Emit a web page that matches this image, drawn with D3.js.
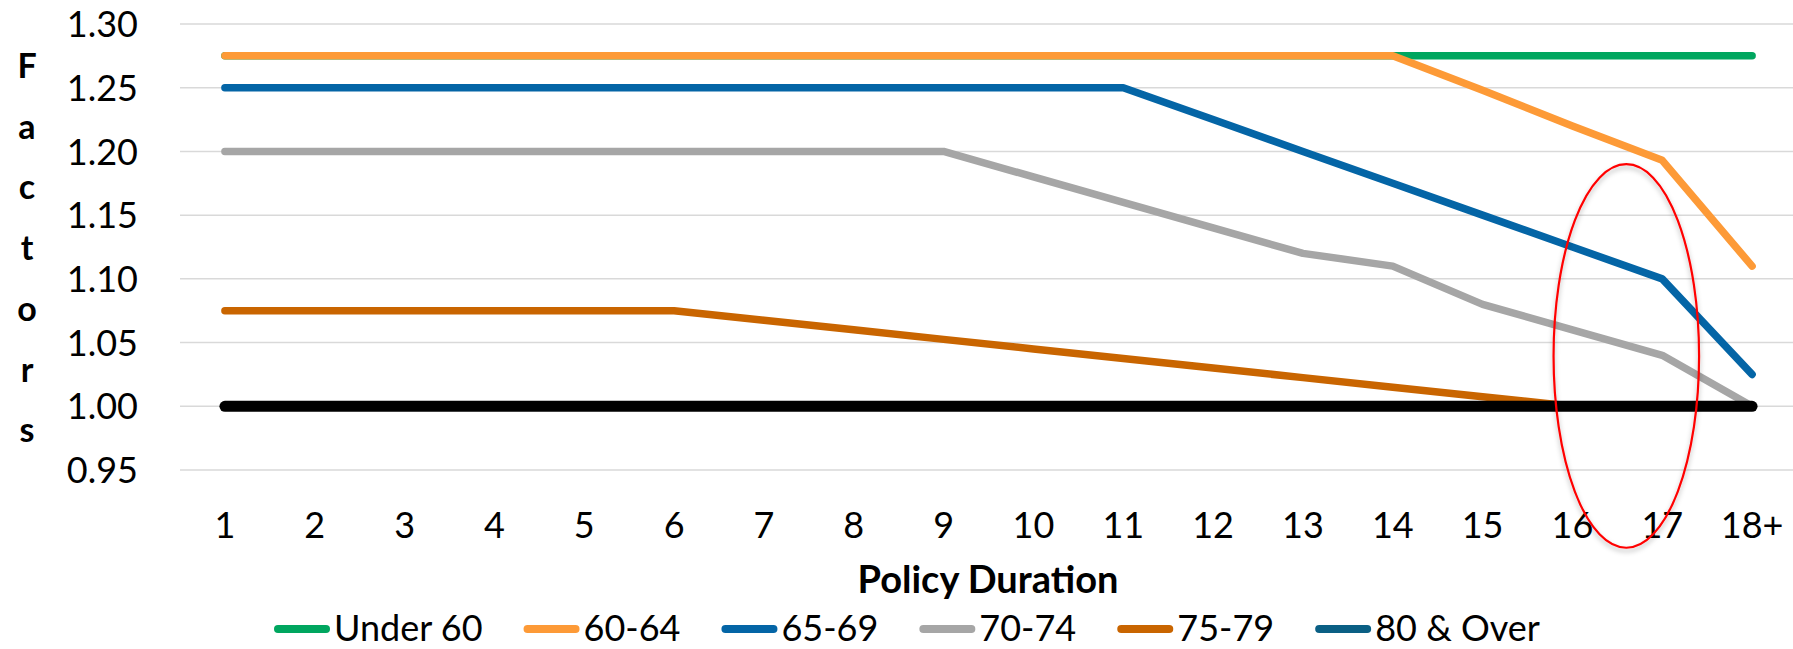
<!DOCTYPE html>
<html>
<head>
<meta charset="utf-8">
<script src="https://cdn.jsdelivr.net/npm/d3@7"></script>
<style>
  html, body { margin: 0; padding: 0; background: #fff; }
  svg { display: block; }
  text { font-family: Lato, "Noto Sans", sans-serif; fill: #000; }
</style>
</head>
<body>
<svg id="chart" width="1793" height="649"></svg>
<script>
// Policy duration categories (x axis)
const durations = ["1","2","3","4","5","6","7","8","9","10","11","12","13","14","15","16","17","18+"];

// Factor by age band, one value per duration
const under60  = [1.275,1.275,1.275,1.275,1.275,1.275,1.275,1.275,1.275,1.275,1.275,1.275,1.275,1.275,1.275,1.275,1.275,1.275];
const age60_64 = [1.275,1.275,1.275,1.275,1.275,1.275,1.275,1.275,1.275,1.275,1.275,1.275,1.275,1.275,1.248,1.220,1.193,1.110];
const age65_69 = [1.25,1.25,1.25,1.25,1.25,1.25,1.25,1.25,1.25,1.25,1.25,1.225,1.20,1.175,1.15,1.125,1.10,1.025];
const age70_74 = [1.20,1.20,1.20,1.20,1.20,1.20,1.20,1.20,1.20,1.18,1.16,1.14,1.12,1.11,1.08,1.06,1.04,1.00];
const age75_79 = [1.075,1.075,1.075,1.075,1.075,1.075,1.0675,1.06,1.0525,1.045,1.0375,1.03,1.0225,1.015,1.0075,1.00,1.00,1.00];
const age80up  = [1.00,1.00,1.00,1.00,1.00,1.00,1.00,1.00,1.00,1.00,1.00,1.00,1.00,1.00,1.00,1.00,1.00,1.00];
// Reference level of 1.00 drawn across every duration
const baseline = [1.00,1.00,1.00,1.00,1.00,1.00,1.00,1.00,1.00,1.00,1.00,1.00,1.00,1.00,1.00,1.00,1.00,1.00];

const seriesNames = ["Under 60","60-64","65-69","70-74","75-79","80 & Over"];
const seriesValues = [under60, age60_64, age65_69, age70_74, age75_79, age80up];
const seriesColors = ["#00a65f","#fd9a37","#0465a6","#a6a6a6","#c96500","#0a5f84"];

// Y axis ticks
const yTicks = [0.95,1.00,1.05,1.10,1.15,1.20,1.25,1.30];

// Highlighted region: centred a little past duration 16, spanning this factor range
const highlight = { cat: "16", offset: 0.6, halfWidth: 0.81, yTop: 1.19, yBottom: 0.889 };

const svg = d3.select("#chart");
const plot = { left: 180, right: 1797, top: 24, bottom: 470 };

const x = d3.scaleBand().domain(durations).range([plot.left, plot.right]).padding(0);
const xc = d => x(d) + x.bandwidth() / 2;
const y = d3.scaleLinear().domain([0.95, 1.30]).range([plot.bottom, plot.top]);

// Gridlines
svg.append("g")
  .selectAll("line").data(yTicks).join("line")
  .attr("x1", plot.left).attr("x2", plot.right)
  .attr("y1", d => y(d)).attr("y2", d => y(d))
  .attr("stroke", "#d9d9d9").attr("stroke-width", 1.5);

// Y tick labels
const yAxis = d3.axisLeft(y).tickValues(yTicks).tickFormat(d3.format(".2f")).tickSize(0).tickPadding(0);
const gy = svg.append("g").attr("transform", "translate(138,0)").call(yAxis);
gy.select(".domain").remove();
gy.selectAll("text").attr("font-size", 36).attr("font-family", "Lato").attr("dy", "0.35em").attr("fill", "#000");

// X tick labels
const xAxis = d3.axisBottom(x).tickSize(0).tickPadding(0);
const gx = svg.append("g").attr("transform", "translate(0,538)").call(xAxis);
gx.select(".domain").remove();
gx.selectAll("text").attr("font-size", 36).attr("font-family", "Lato").attr("dy", 0).attr("fill", "#000");

// Series lines
const line = d3.line().x((d, i) => xc(durations[i])).y(d => y(d));
seriesValues.forEach((vals, i) => {
  svg.append("path")
    .datum(vals)
    .attr("d", line)
    .attr("fill", "none")
    .attr("stroke", seriesColors[i])
    .attr("stroke-width", 7.5)
    .attr("stroke-linejoin", "round")
    .attr("stroke-linecap", "round");
});

// Reference line at 1.00
svg.append("path")
  .datum(baseline)
  .attr("d", line)
  .attr("fill", "none")
  .attr("stroke", "#000")
  .attr("stroke-width", 11)
  .attr("stroke-linecap", "round");

// Highlight ellipse with a soft shadow
const defs = svg.append("defs");
const f = defs.append("filter").attr("id", "shadow").attr("x", "-20%").attr("y", "-10%").attr("width", "140%").attr("height", "120%");
f.append("feDropShadow").attr("dx", 0).attr("dy", 3).attr("stdDeviation", 2.5).attr("flood-color", "#000").attr("flood-opacity", 0.3);

const step = x.step();
const hTop = y(highlight.yTop), hBot = y(highlight.yBottom);
svg.append("ellipse")
  .attr("cx", xc(highlight.cat) + step * highlight.offset)
  .attr("cy", (hTop + hBot) / 2)
  .attr("rx", step * highlight.halfWidth)
  .attr("ry", (hBot - hTop) / 2)
  .attr("fill", "none")
  .attr("stroke", "#ff0000")
  .attr("stroke-width", 2.2)
  .attr("filter", "url(#shadow)");

// Y axis title, stacked letters
const yTitle = "Factors".split("");
svg.append("g").selectAll("text").data(yTitle).join("text")
  .attr("x", 27).attr("y", (d, i) => 78 + i * 60.7)
  .attr("text-anchor", "middle")
  .attr("font-weight", "bold")
  .attr("font-size", 34)
  .text(d => d);

// X axis title
svg.append("text")
  .attr("x", 988).attr("y", 593)
  .attr("text-anchor", "middle")
  .attr("font-weight", "bold")
  .attr("font-size", 38)
  .text("Policy Duration");

// Legend
const legend = svg.append("g");
let lx = 274;
seriesNames.forEach((name, i) => {
  legend.append("line")
    .attr("x1", lx + 4).attr("x2", lx + 52)
    .attr("y1", 629).attr("y2", 629)
    .attr("stroke", seriesColors[i]).attr("stroke-width", 8).attr("stroke-linecap", "round");
  const t = legend.append("text")
    .attr("x", lx + 60).attr("y", 641)
    .attr("font-size", 36)
    .text(name);
  lx += 60 + t.node().getComputedTextLength() + 41;
});
</script>
</body>
</html>
